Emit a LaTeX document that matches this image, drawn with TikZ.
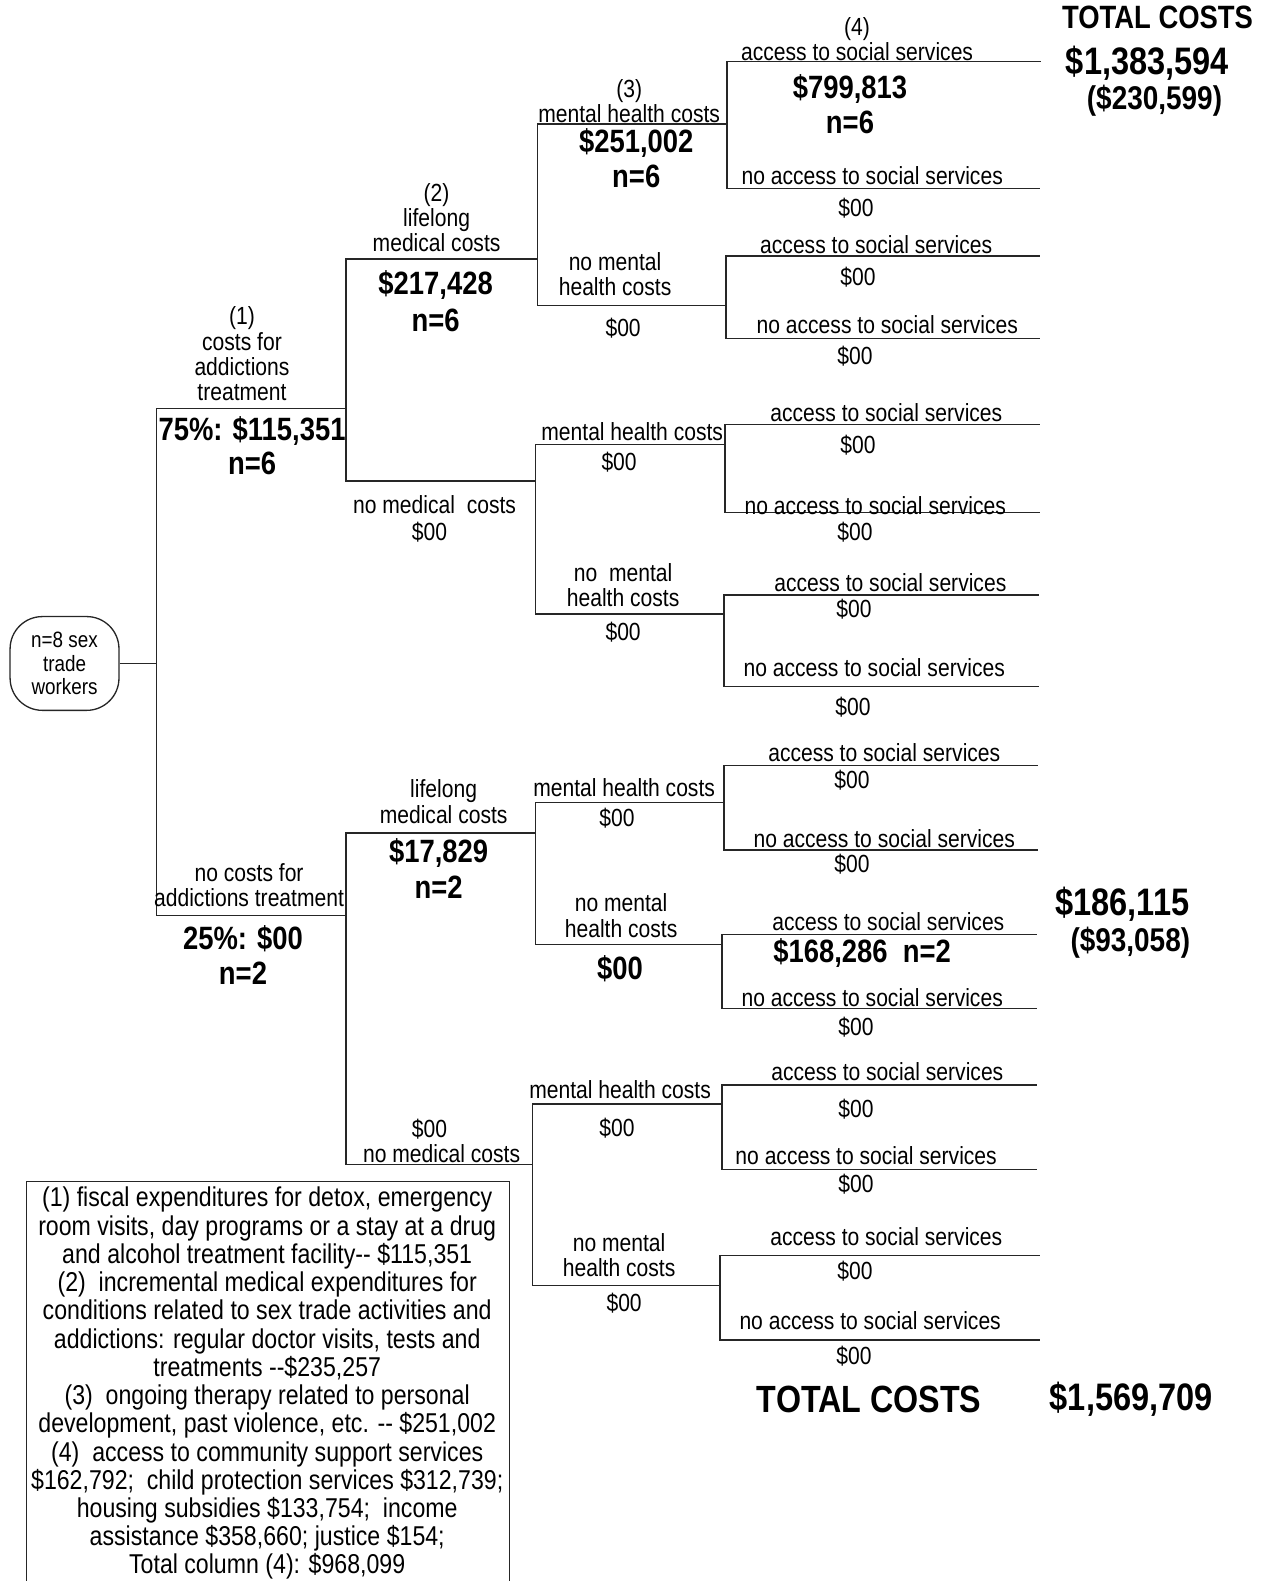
\documentclass[tikz,border=0pt]{standalone}
\usepackage{fontspec}
\setmainfont[FakeStretch=0.85]{Liberation Sans}
\newcommand\treefork[6]{%
  \coordinate (#1t) at (#2,#3);
  \coordinate (#1b) at (#2,#4);
  \coordinate (#1te) at (#5,#3);
  \coordinate (#1be) at (#6,#4);
  \draw[tree] (#1te) -- (#1t) -- (#1b) -- (#1be);
}
\begin{document}
\begin{tikzpicture}[x=0.5pt,y=-0.5pt,
  tree/.style={line width=0.65pt, draw=black!85},
  lbl/.style={inner sep=0pt, align=center, font=\fontsize{12.3}{12.5}\selectfont},
  big/.style={inner sep=0pt, align=center, font=\fontsize{16}{17}\selectfont\bfseries},
  par/.style={inner sep=0pt, font=\fontsize{16.3}{17}\selectfont\bfseries},
  huge/.style={inner sep=0pt, font=\fontsize{19}{20}\selectfont\bfseries},
  root/.style={draw=black!85, line width=0.65pt, rounded corners=16pt, minimum width=54pt,
    minimum height=46.5pt, align=center, inner sep=1pt, font=\fontsize{11}{11.5}\selectfont},
  legend/.style={inner sep=0pt, align=center, font=\fontsize{13.5}{14}\selectfont}
]
\useasboundingbox (0,0) rectangle (1262,1568);

% root
\node[root] (root) at (64,658) {n=8 sex\\trade\\workers};
\coordinate (rj) at (155,658);
\draw[tree] (root.east) -- (rj);

% level 1
\treefork{P}{155}{405}{908}{343}{343}
\node[lbl] (p1) at (240,351) {(1)\\costs for\\addictions\\treatment};
\node[big] (p2) at (250,427) {75\%: \$115,351};
\node[big] (p3) at (250,460) {n=6};
\node[lbl] (p4) at (247,878) {no costs for\\addictions treatment};
\node[big] (p5) at (241,931) {25\%: \$00};
\node[big] (p6) at (241,965) {n=2};

% level 2
\treefork{A}{343}{257}{477}{533}{531}
\node[lbl] (a1) at (433,216) {(2)\\lifelong\\medical costs};
\node[big] (a2) at (432,283) {\$217,428};
\node[big] (a3) at (432,318) {n=6};
\node[lbl] (a4) at (431,500) {no medical\ \ costs};
\node[lbl] (a5) at (426,528) {\$00};

\treefork{B}{343}{826}{1155}{531}{528}
\node[lbl] (b1) at (440,795) {lifelong\\medical costs};
\node[big] (b2) at (435,846) {\$17,829};
\node[big] (b3) at (435,880) {n=2};
\node[lbl] (b4) at (426,1120) {\$00};
\node[lbl] (b5) at (438,1144) {no medical costs};

% level 3
\treefork{AA}{533}{123}{303}{721}{720}
\node[lbl] (aa1) at (624,100) {(3)\\mental health costs};
\node[big] (aa2) at (631,142) {\$251,002};
\node[big] (aa3) at (631,175) {n=6};
\node[lbl] (aa4) at (610,272) {no mental\\health costs};
\node[lbl] (aa5) at (618,325) {\$00};

\treefork{AB}{531}{441}{609}{719}{718}
\node[lbl] (ab1) at (627,428) {mental health costs};
\node[lbl] (ab2) at (614,458) {\$00};
\node[lbl] (ab3) at (618,580) {no\ \ mental\\health costs};
\node[lbl] (ab4) at (618,627) {\$00};

\treefork{BA}{531}{796}{937}{718}{716}
\node[lbl] (ba1) at (619,781) {mental health costs};
\node[lbl] (ba2) at (612,811) {\$00};
\node[lbl] (ba3) at (616,908) {no mental\\health costs};
\node[big] (ba4) at (615,961) {\$00};

\treefork{BB}{528}{1095}{1275}{716}{714}
\node[lbl] (bb1) at (615,1081) {mental health costs};
\node[lbl] (bb2) at (612,1119) {\$00};
\node[lbl] (bb3) at (614,1245) {no mental\\health costs};
\node[lbl] (bb4) at (619,1292) {\$00};

% level 4
\treefork{AAA}{721}{61}{187}{1032}{1031}
\node[lbl] (aaa1) at (850,39) {(4)\\access to social services};
\node[big] (aaa2) at (843,88) {\$799,813};
\node[big] (aaa3) at (843,121) {n=6};
\node[lbl] (aaa4) at (865,174) {no access to social services};
\node[lbl] (aaa5) at (849,206) {\$00};

\treefork{AAB}{720}{254}{336}{1031}{1031}
\node[lbl] (aab1) at (869,243) {access to social services};
\node[lbl] (aab2) at (851,275) {\$00};
\node[lbl] (aab3) at (880,322) {no access to social services};
\node[lbl] (aab4) at (848,353) {\$00};

\treefork{ABA}{719}{421}{508}{1031}{1031}
\node[lbl] (aba1) at (879,409) {access to social services};
\node[lbl] (aba2) at (851,442) {\$00};
\node[lbl] (aba3) at (868,501) {no access to social services};
\node[lbl] (aba4) at (848,528) {\$00};

\treefork{ABB}{718}{590}{681}{1030}{1030}
\node[lbl] (abb1) at (883,578) {access to social services};
\node[lbl] (abb2) at (847,604) {\$00};
\node[lbl] (abb3) at (867,662) {no access to social services};
\node[lbl] (abb4) at (846,701) {\$00};

\treefork{BAA}{718}{759}{843}{1029}{1029}
\node[lbl] (baa1) at (877,746) {access to social services};
\node[lbl] (baa2) at (845,774) {\$00};
\node[lbl] (baa3) at (877,832) {no access to social services};
\node[lbl] (baa4) at (845,857) {\$00};

\treefork{BAB}{716}{927}{1000}{1028}{1028}
\node[lbl] (bab1) at (881,914) {access to social services};
\node[big] (bab2) at (855,945) {\$168,286\ \ n=2};
\node[lbl] (bab3) at (865,989) {no access to social services};
\node[lbl] (bab4) at (849,1019) {\$00};

\treefork{BBA}{716}{1076}{1160}{1028}{1028}
\node[lbl] (bba1) at (880,1063) {access to social services};
\node[lbl] (bba2) at (849,1100) {\$00};
\node[lbl] (bba3) at (859,1146) {no access to social services};
\node[lbl] (bba4) at (849,1174) {\$00};

\treefork{BBB}{714}{1245}{1329}{1031}{1031}
\node[lbl] (bbb1) at (879,1226) {access to social services};
\node[lbl] (bbb2) at (848,1261) {\$00};
\node[lbl] (bbb3) at (863,1310) {no access to social services};
\node[lbl] (bbb4) at (847,1345) {\$00};

% totals
\node[big] (t1) at (1148,17) {TOTAL COSTS};
\node[huge] (t2) at (1138,63) {\$1,383,594};
\node[par] (t3) at (1145,100) {(\$230,599)};
\node[huge] (t4) at (1113,897) {\$186,115};
\node[par] (t5) at (1121,935) {(\$93,058)};
\node[huge, font=\fontsize{18.8}{20}\selectfont\bfseries] (t6) at (862,1388) {TOTAL COSTS};
\node[huge] (t7) at (1122,1388) {\$1,569,709};

% legend
\draw[tree] (26,1600) -- (26,1172) -- (505,1172) -- (505,1600);
\node[legend] (leg) at (265,1372) {(1) fiscal expenditures for detox, emergency\\
room visits, day programs or a stay at a drug\\
and alcohol treatment facility-{}- \$115,351\\
(2)\ \ incremental medical expenditures for\\
conditions related to sex trade activities and\\
addictions: regular doctor visits, tests and\\
treatments -{}-\$235,257\\
(3)\ \ ongoing therapy related to personal\\
development, past violence, etc. -{}- \$251,002\\
(4)\ \ access to community support services\\
\$162,792;\ \ child protection services \$312,739;\\
housing subsidies \$133,754;\ \ income\\
assistance \$358,660; justice \$154;\\
Total column (4): \$968,099};
\end{tikzpicture}
\end{document}
